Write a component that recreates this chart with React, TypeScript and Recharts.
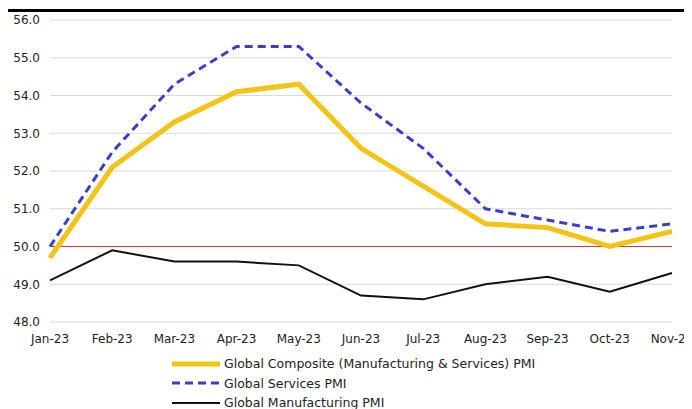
import { LineChart, Line, XAxis, YAxis, CartesianGrid, ReferenceLine, Legend } from 'recharts';

const months = ['Jan-23', 'Feb-23', 'Mar-23', 'Apr-23', 'May-23', 'Jun-23', 'Jul-23', 'Aug-23', 'Sep-23', 'Oct-23', 'Nov-23'];
const composite = [49.7, 52.1, 53.3, 54.1, 54.3, 52.6, 51.6, 50.6, 50.5, 50.0, 50.4];
const services = [50.0, 52.5, 54.3, 55.3, 55.3, 53.8, 52.6, 51.0, 50.7, 50.4, 50.6];
const manufacturing = [49.1, 49.9, 49.6, 49.6, 49.5, 48.7, 48.6, 49.0, 49.2, 48.8, 49.3];
const yTicks = [48, 49, 50, 51, 52, 53, 54, 55, 56];

const series = [
  { key: 'composite', label: 'Global Composite (Manufacturing & Services) PMI', color: '#F5C316', width: 5, dash: undefined },
  { key: 'services', label: 'Global Services PMI', color: '#3C3CCF', width: 3, dash: '8 5' },
  { key: 'manufacturing', label: 'Global Manufacturing PMI', color: '#111111', width: 2, dash: undefined },
];

const data = months.map((m, i) => ({
  month: m,
  composite: composite[i],
  services: services[i],
  manufacturing: manufacturing[i],
}));

const FONT = '"DejaVu Sans", Verdana, sans-serif';

// legend is a plain vertical list, left edge of the swatches ~x=173 on the page
function LegendBox() {
  return (
    <div style={{ height: 63, paddingLeft: 164, paddingTop: 8, boxSizing: 'border-box', fontFamily: FONT, fontSize: 12.5, color: '#222' }}>
      {series.map((s) => (
        <div key={s.key} style={{ display: 'flex', alignItems: 'center', height: 19.5 }}>
          <svg width={48} height={8} style={{ marginRight: 4 }}>
            <line x1={0} x2={48} y1={4} y2={4} stroke={s.color} strokeWidth={s.width} strokeDasharray={s.dash} />
          </svg>
          <span>{s.label}</span>
        </div>
      ))}
    </div>
  );
}

export default function App() {
  return (
    <div style={{ position: 'relative', width: 684, height: 401 }}>
      <div style={{ position: 'absolute', top: 1, left: -1, width: 685, height: 3, background: '#000' }} />
      <LineChart width={684} height={401} data={data} margin={{ top: 12, right: 20, left: 0, bottom: 0 }}>
        <CartesianGrid vertical={false} stroke="#D9D9D9" />
        <XAxis
          dataKey="month"
          axisLine={false}
          tickLine={false}
          height={24}
          interval={0}
          tick={{ fill: '#222', fontSize: 12, fontFamily: FONT }}
          tickMargin={6}
        />
        <YAxis
          domain={[48, 56]}
          ticks={yTicks}
          width={42}
          axisLine={false}
          tickLine={false}
          tickFormatter={(v: number) => v.toFixed(1)}
          tick={{ fill: '#222', fontSize: 12, fontFamily: FONT }}
          tickMargin={4}
        />
        <ReferenceLine y={50} stroke="#E0313A" strokeWidth={1} />
        <Legend verticalAlign="bottom" height={63} content={() => <LegendBox />} />
        {series.map((s) => (
          <Line
            key={s.key}
            type="linear"
            dataKey={s.key}
            stroke={s.color}
            strokeWidth={s.width}
            strokeDasharray={s.dash}
            dot={false}
            activeDot={false}
            isAnimationActive={false}
          />
        ))}
      </LineChart>
    </div>
  );
}
